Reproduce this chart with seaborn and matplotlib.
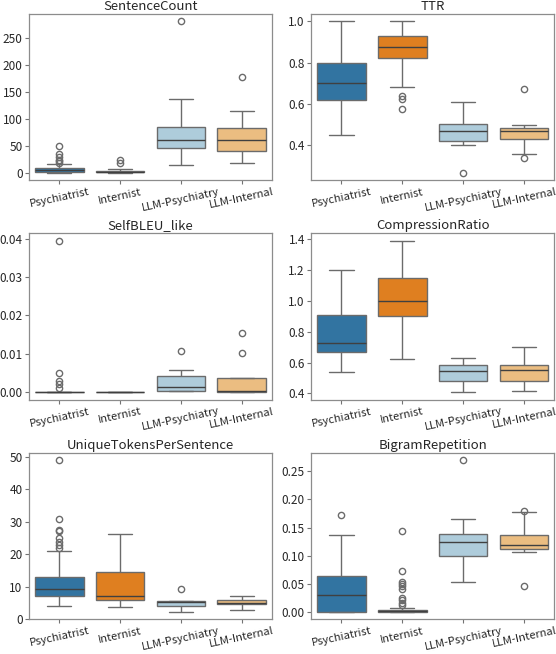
import pandas as pd
import matplotlib
matplotlib.use("Agg")
import matplotlib.pyplot as plt
import seaborn as sns

# Groups and colours (Paired pairs)
groups = ["Psychiatrist", "Internist", "LLM-Psychiatry", "LLM-Internal"]
group_colors = ["#1f78b4", "#ff7f00", "#a6cee3", "#fdbf6f"]

metrics = ["SentenceCount", "TTR", "SelfBLEU_like",
           "CompressionRatio", "UniqueTokensPerSentence", "BigramRepetition"]

# Box summaries: [whisker_lo, q1, median, q3, whisker_hi]
sentcount_box = [[0, 2, 5, 8, 15.5], [0, 1, 2, 4, 7],
                 [15, 46, 60, 84.5, 136], [18, 39.5, 60, 83, 115]]
sentcount_out = [[18, 21, 24, 29, 34, 49.5], [18, 24], [281], [178]]

ttr_box = [[0.45, 0.62, 0.70, 0.80, 1.0], [0.682, 0.821, 0.874, 0.929, 1.0],
           [0.40, 0.421, 0.469, 0.505, 0.611], [0.358, 0.433, 0.468, 0.486, 0.50]]
ttr_out = [[], [0.637, 0.623, 0.577], [0.268], [0.671, 0.337]]

selfbleu_box = [[0, 0, 0, 0, 0], [0, 0, 0, 0, 0],
                [0.0004, 0.0004, 0.0014, 0.0043, 0.0058], [0, 0, 0.0003, 0.0036, 0.0036]]
selfbleu_out = [[0.0394, 0.0051, 0.0030, 0.0022, 0.0010], [], [0.0108], [0.0103, 0.0153]]

compression_box = [[0.54, 0.667, 0.729, 0.909, 1.2], [0.626, 0.90, 1.0, 1.148, 1.389],
                   [0.408, 0.48, 0.546, 0.587, 0.632], [0.416, 0.48, 0.553, 0.583, 0.703]]
compression_out = [[], [], [], []]

unique_box = [[4.1, 7.1, 9.2, 12.8, 21.1], [3.6, 5.7, 7.2, 14.6, 26.3],
              [2.2, 4.1, 5.3, 5.5, 5.5], [2.9, 4.5, 5.0, 5.9, 7.0]]
unique_out = [[21.9, 22.7, 23.8, 25.0, 27.2, 27.4, 31.0, 49.0], [], [9.3], []]

bigram_box = [[0, 0, 0.029, 0.0637, 0.1375], [0, 0, 0.001, 0.003, 0.007],
              [0.0536, 0.10, 0.124, 0.1387, 0.166], [0.107, 0.111, 0.118, 0.1375, 0.1768]]
bigram_out = [[0.172], [0.012, 0.016, 0.021, 0.025, 0.041, 0.046, 0.050, 0.053, 0.072, 0.1435],
              [0.2696], [0.180, 0.045]]

boxes = [sentcount_box, ttr_box, selfbleu_box, compression_box, unique_box, bigram_box]
outliers = [sentcount_out, ttr_out, selfbleu_out, compression_out, unique_out, bigram_out]


def expand(box, outs):
    # turn a five-number summary + outliers into samples with the same quartiles
    lo_w, q1, med, q3, hi_w = box
    lo = sorted(o for o in outs if o < med)
    hi = sorted(o for o in outs if o >= med)
    c = len(lo) + len(hi) + 2
    a = len(hi) + c
    b = len(lo) + c
    return lo + [lo_w] + [q1] * a + [med] + [q3] * b + [hi_w] + hi


sns.set_theme(style="ticks")
plt.rcParams["font.family"] = ["Noto Sans CJK JP", "DejaVu Sans"]
plt.rcParams["axes.edgecolor"] = "0.55"
plt.rcParams["xtick.color"] = "0.45"
plt.rcParams["ytick.color"] = "0.45"
plt.rcParams["xtick.labelcolor"] = "0.15"
plt.rcParams["ytick.labelcolor"] = "0.15"

fig, axes = plt.subplots(3, 2, figsize=(5.56, 6.54), dpi=100)
fig.subplots_adjust(left=0.052, right=0.997, top=0.979, bottom=0.053,
                    wspace=0.16, hspace=0.318)

palette = dict(zip(groups, group_colors))

for ax, metric, box, outs in zip(axes.flat, metrics, boxes, outliers):
    rows = []
    for g, bx, ot in zip(groups, box, outs):
        for v in expand(bx, ot):
            rows.append({"group": g, "value": v})
    df = pd.DataFrame(rows)
    sns.boxplot(data=df, x="group", y="value", hue="group", order=groups,
                hue_order=groups, palette=palette, legend=False, ax=ax,
                linecolor="0.42", medianprops={"color": "0.25"},
                flierprops={"markersize": 4.5})
    ax.set_title(metric, fontsize=9.5, pad=3)
    ax.set_xlabel("")
    ax.set_ylabel("")
    ax.tick_params(axis="both", labelsize=8, length=3, width=0.8, pad=1.5)
    ax.tick_params(axis="y", labelsize=8.5)
    for lab in ax.get_xticklabels():
        lab.set_rotation(12)
    for s in ax.spines.values():
        s.set_linewidth(0.9)

fig.savefig("out.png", dpi=100)
